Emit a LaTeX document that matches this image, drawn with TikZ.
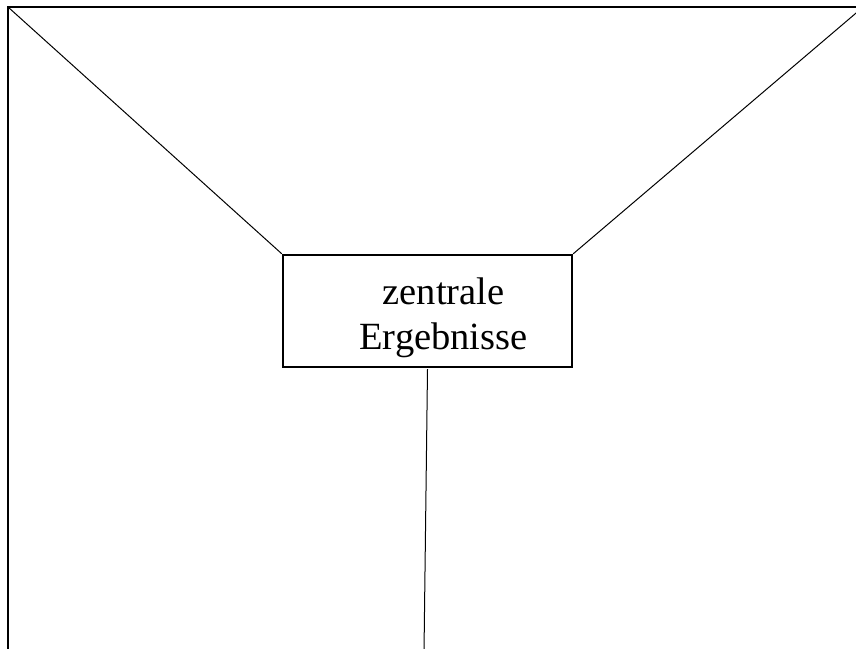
\documentclass[tikz,border=0pt]{standalone}
\usepackage{fontspec}
\setmainfont{Liberation Serif}
\begin{document}
\begin{tikzpicture}[x=1pt,y=-1pt,
  thin line/.style={draw=black,line width=1pt},
  frame line/.style={draw=black,line width=2.6pt},
  boxstyle/.style={draw=black,line width=2.4pt,fill=white,minimum width=289pt,minimum height=112pt,inner sep=0pt},
  label text/.style={font=\fontsize{38.5}{45}\selectfont,align=center,inner sep=0pt}]
\useasboundingbox (0,0) rectangle (856,648);
\clip (0,0) rectangle (856,648);
\coordinate (tl) at (8,7);
\coordinate (tr) at (860,7);
\coordinate (bl) at (8,652);
\coordinate (ltop) at (8,7);
\coordinate (rtop) at (862,8);
\coordinate (vbot) at (424,652);
\draw[frame line] (bl) -- (tl) -- (tr);
\node[boxstyle] (box) at (427.5,311) {};
\draw[thin line] (ltop) -- (box.north west);
\draw[thin line] (rtop) -- (box.north east);
\draw[thin line] (box.south) ++(0,1) coordinate (vtop) -- (vbot);
\node[label text] (txt) at (443.5,318) {zentrale\\Ergebnisse};
\end{tikzpicture}
\end{document}
